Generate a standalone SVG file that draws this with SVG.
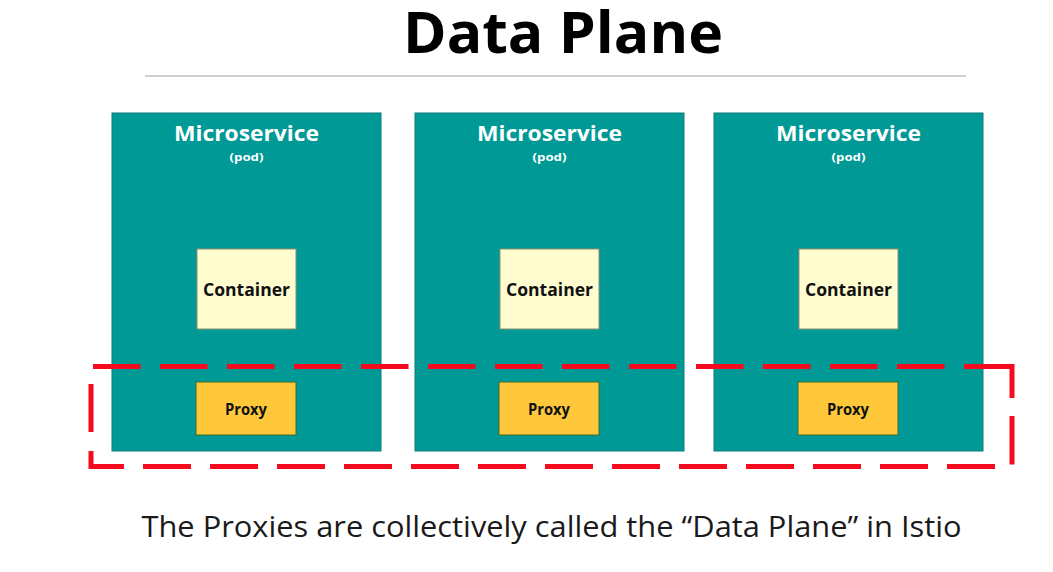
<svg xmlns="http://www.w3.org/2000/svg" width="1053" height="572" viewBox="0 0 1053 572">
<style>
.title{font-family:"Open Sans","Noto Sans","Liberation Sans",sans-serif;font-weight:700;font-size:57px;fill:#000}
.caption{font-family:"Open Sans","Noto Sans","Liberation Sans",sans-serif;font-weight:400;font-size:28.5px;fill:#1a1a1a}
.pod{fill:#009995;stroke:#0a7d7a;stroke-width:1}
.podname{font-family:"Open Sans","Noto Sans","Liberation Sans",sans-serif;font-weight:700;font-size:20.5px;fill:#fff}
.podsub{font-family:"Open Sans","Noto Sans","Liberation Sans",sans-serif;font-weight:700;font-size:11px;fill:#fff}
.container{fill:#fffcd0;stroke:#8f8f70;stroke-width:1}
.ctext{font-family:"Open Sans","Noto Sans","Liberation Sans",sans-serif;font-weight:700;font-size:18px;fill:#111}
.proxy{fill:#ffc83a;stroke:#3e6a2a;stroke-width:1}
.ptext{font-family:"Open Sans","Noto Sans","Liberation Sans",sans-serif;font-weight:700;font-size:15.5px;fill:#111}
.dash{fill:none;stroke:#f50a1e;stroke-width:5;stroke-linecap:butt;stroke-linejoin:miter}
</style>
<text class="title" x="563" y="53" text-anchor="middle" textLength="320" lengthAdjust="spacingAndGlyphs">Data Plane</text>
<line x1="145" y1="76" x2="966" y2="76" stroke="#d0d0d0" stroke-width="2"/>

<g id="pod1">
<rect class="pod" x="112" y="113" width="269" height="338"/>
<text class="podname" x="246.5" y="140.5" text-anchor="middle" textLength="145" lengthAdjust="spacingAndGlyphs">Microservice</text>
<text class="podsub" x="246.5" y="160.5" text-anchor="middle" textLength="34" lengthAdjust="spacingAndGlyphs">(pod)</text>
</g>
<g id="pod2">
<rect class="pod" x="415" y="113" width="269" height="338"/>
<text class="podname" x="549.5" y="140.5" text-anchor="middle" textLength="145" lengthAdjust="spacingAndGlyphs">Microservice</text>
<text class="podsub" x="549.5" y="160.5" text-anchor="middle" textLength="34" lengthAdjust="spacingAndGlyphs">(pod)</text>
</g>
<g id="pod3">
<rect class="pod" x="714" y="113" width="269" height="338"/>
<text class="podname" x="848.5" y="140.5" text-anchor="middle" textLength="145" lengthAdjust="spacingAndGlyphs">Microservice</text>
<text class="podsub" x="848.5" y="160.5" text-anchor="middle" textLength="34" lengthAdjust="spacingAndGlyphs">(pod)</text>
</g>

<g id="container1">
<rect class="container" x="197" y="249" width="99" height="80"/>
<text class="ctext" x="246.5" y="296" text-anchor="middle" textLength="87" lengthAdjust="spacingAndGlyphs">Container</text>
</g>
<g id="container2">
<rect class="container" x="500" y="249" width="99" height="80"/>
<text class="ctext" x="549.5" y="296" text-anchor="middle" textLength="87" lengthAdjust="spacingAndGlyphs">Container</text>
</g>
<g id="container3">
<rect class="container" x="799" y="249" width="99" height="80"/>
<text class="ctext" x="848.5" y="296" text-anchor="middle" textLength="87" lengthAdjust="spacingAndGlyphs">Container</text>
</g>

<g id="proxy1">
<rect class="proxy" x="196" y="382" width="100" height="53"/>
<text class="ptext" x="246" y="415" text-anchor="middle" textLength="42" lengthAdjust="spacingAndGlyphs">Proxy</text>
</g>
<g id="proxy2">
<rect class="proxy" x="499" y="382" width="100" height="53"/>
<text class="ptext" x="549" y="415" text-anchor="middle" textLength="42" lengthAdjust="spacingAndGlyphs">Proxy</text>
</g>
<g id="proxy3">
<rect class="proxy" x="798" y="382" width="100" height="53"/>
<text class="ptext" x="848" y="415" text-anchor="middle" textLength="42" lengthAdjust="spacingAndGlyphs">Proxy</text>
</g>

<g id="data-plane-boundary">
<path class="dash" d="M93 366.5H140.5M160 366.5H207.5M227 366.5H274.5M294 366.5H341.5M361 366.5H408.5M428 366.5H475.5M495 366.5H542.5M562 366.5H609.5M629 366.5H676.5M696 366.5H743.5M763 366.5H810.5M830 366.5H877.5M897 366.5H944.5M964 366.5H1012V398M1012 416V464.5M995 466.5H947M928 466.5H880M861 466.5H813M794 466.5H746M727 466.5H679M660 466.5H612M593 466.5H545M526 466.5H478M459 466.5H411M392 466.5H344M325 466.5H277M258 466.5H210M191 466.5H143M124 466.5H91V451M91 432V384"/>
</g>

<text class="caption" x="551.5" y="536.5" text-anchor="middle" textLength="820" lengthAdjust="spacingAndGlyphs">The Proxies are collectively called the “Data Plane” in Istio</text>
</svg>
